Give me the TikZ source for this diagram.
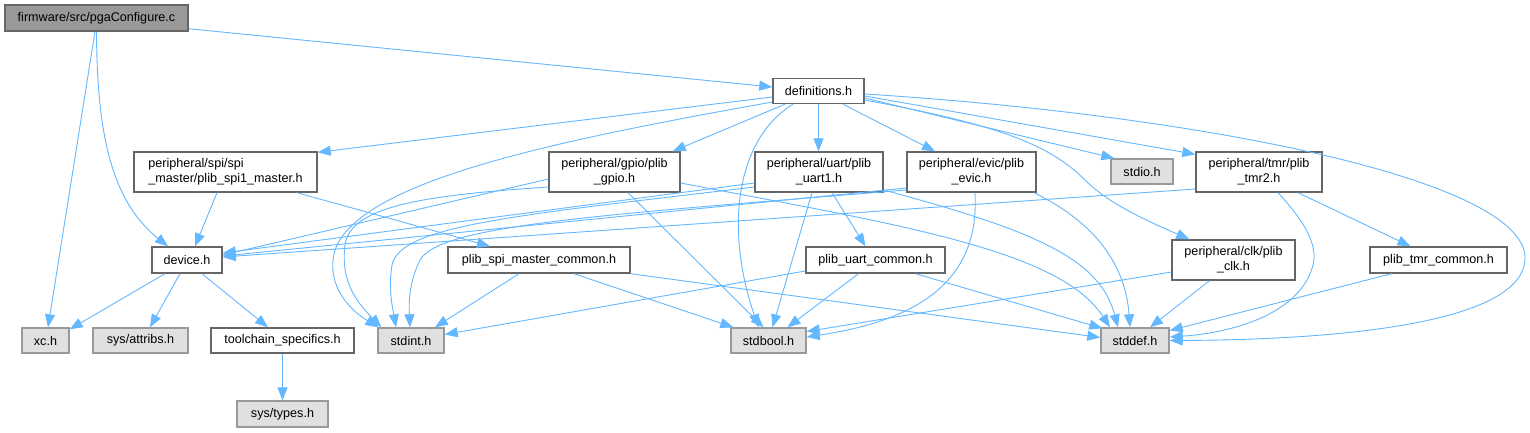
\documentclass[tikz,border=0pt]{standalone}
\usepackage{fontspec}
\setmainfont{Liberation Sans}
\usetikzlibrary{arrows.meta}
\definecolor{edgec}{HTML}{63B8FF}
\definecolor{nodeborder}{HTML}{666666}
\definecolor{grayborder}{HTML}{999999}
\definecolor{grayfill}{HTML}{E0E0E0}
\definecolor{rootfill}{HTML}{999999}
\definecolor{rootborder}{HTML}{666666}
\begin{document}
\begin{tikzpicture}[x=1pt,y=-1pt,
  box/.style={draw=nodeborder, fill=white, line width=1.4pt, inner sep=0pt,
    font=\fontsize{12.6}{15}\selectfont, align=center, minimum height=25pt},
  tallbox/.style={box, minimum height=40pt},
  gbox/.style={box, draw=grayborder, fill=grayfill},
  rootbox/.style={box, draw=rootborder, fill=rootfill},
  dep/.style={draw=edgec, line width=0.9pt, -{Triangle[length=13pt,width=10pt]}}]
\useasboundingbox[fill=white] (0,0) rectangle (1530,432);

% nodes
\node[rootbox, minimum width=183pt, minimum height=26pt] (pga) at (96.5,18) {firmware/src/pgaConfigure.c};
\node[box, minimum width=91pt] (defs) at (818.5,91) {definitions.h};
\node[tallbox, minimum width=183pt, align=left] (spi1) at (225.5,172) {peripheral/spi/spi\\\_master/plib\_spi1\_master.h};
\node[box, minimum width=70pt, minimum height=26pt] (device) at (187,260) {device.h};
\node[gbox, minimum width=47pt] (xc) at (45.5,340.5) {xc.h};
\node[gbox, minimum width=95pt] (attribs) at (140.5,340.5) {sys/attribs.h};
\node[box, minimum width=143pt] (toolchain) at (282.5,340.5) {toolchain\_specifics.h};
\node[gbox, minimum width=91pt, minimum height=26pt] (types) at (282.5,414) {sys/types.h};
\node[gbox, minimum width=66pt] (stdint) at (411,340.5) {stdint.h};
\node[tallbox, minimum width=131pt] (gpio) at (614.5,172) {peripheral/gpio/plib\\\_gpio.h};
\node[tallbox, minimum width=128pt] (uart1) at (819,172) {peripheral/uart/plib\\\_uart1.h};
\node[box, minimum width=182pt, minimum height=26pt] (spic) at (539,260) {plib\_spi\_master\_common.h};
\node[box, minimum width=139pt, minimum height=26pt] (uartc) at (875.5,260) {plib\_uart\_common.h};
\node[gbox, minimum width=75pt] (stdbool) at (768.5,340.5) {stdbool.h};
\node[tallbox, minimum width=129pt] (evic) at (971.5,172) {peripheral/evic/plib\\\_evic.h};
\node[gbox, minimum width=62pt] (stdio) at (1142,171.5) {stdio.h};
\node[tallbox, minimum width=126pt] (tmr2) at (1259,172) {peripheral/tmr/plib\\\_tmr2.h};
\node[tallbox, minimum width=123pt] (clk) at (1233.5,260) {peripheral/clk/plib\\\_clk.h};
\node[box, minimum width=137pt, minimum height=26pt] (tmrc) at (1438.5,260) {plib\_tmr\_common.h};
\node[gbox, minimum width=68pt] (stddef) at (1135,340.5) {stddef.h};

% pgaConfigure.c
\draw[dep] ([xshift=-1.5pt]pga.south) -- ([xshift=2.5pt]xc.north);
\draw[dep] (pga.south) .. controls (97,130) and (110,200) .. ([xshift=-19pt]device.north);
\draw[dep] ([yshift=3pt]pga.south east) -- ([yshift=4pt]defs.west);

% definitions.h
\draw[dep] ([yshift=-6pt]defs.west) -- ([yshift=-1pt]spi1.north east);
\draw[dep] ([xshift=-33.5pt]defs.south) -- ([xshift=-8pt]gpio.north east);
\draw[dep] (defs.south) -- (defs.south |- uart1.north);
\draw[dep] ([xshift=24.5pt]defs.south) -- ([xshift=-36.5pt]evic.north);
\draw[dep] ([yshift=-7pt]defs.east) -- ([xshift=4pt]stdio.north west);
\draw[dep] ([yshift=-5pt]defs.east) -- ([yshift=-3pt]tmr2.north west);
\draw[dep] ([yshift=-9pt]defs.east) .. controls (1000,125) and (1050,145) .. (1085,180)
  .. controls (1110,205) and (1150,222) .. ([xshift=18pt]clk.north west);
\draw[dep] ([yshift=-11pt]defs.west) .. controls (560,140) and (360,180) .. (335,250)
  .. controls (325,285) and (350,310) .. ([xshift=1pt]stdint.north west);
\draw[dep] ([xshift=-25.5pt]defs.south) .. controls (735,140) and (725,230) .. ([xshift=-10pt]stdbool.north);
\draw[dep] ([yshift=-3pt]defs.east) .. controls (1200,115) and (1530,180) .. (1525,260)
  .. controls (1520,330) and (1300,340) .. (stddef.east);

% spi1
\draw[dep] ([xshift=-8.5pt]spi1.south) -- ([xshift=8pt]device.north);
\draw[dep] ([xshift=71.5pt]spi1.south) -- ([xshift=-49pt]spic.north);

% device.h
\draw[dep] ([xshift=-22pt]device.south) -- ([yshift=-2pt]xc.north east);
\draw[dep] ([xshift=-7pt]device.south) -- ([xshift=9.5pt]attribs.north);
\draw[dep] ([xshift=15pt]device.south) -- ([xshift=-14.5pt]toolchain.north);
\draw[dep] (toolchain.south) -- (types.north);

% gpio
\draw[dep] ([yshift=-7pt]gpio.west) -- ([yshift=5pt]device.east);
\draw[dep] ([yshift=-15pt]gpio.west) .. controls (430,195) and (350,205) .. (345,245)
  .. controls (340,285) and (360,305) .. ([xshift=4pt]stdint.north west);
\draw[dep] ([xshift=13.5pt]gpio.south) -- ([xshift=-5pt]stdbool.north);
\draw[dep] ([yshift=-11pt]gpio.east) .. controls (900,225) and (1060,250) .. ([xshift=-25pt]stddef.north);

% uart1
\draw[dep] ([yshift=-11pt]uart1.west) -- ([yshift=7pt]device.east);
\draw[dep] ([yshift=-15pt]uart1.west) .. controls (520,215) and (400,225) .. (392,265)
  .. controls (388,290) and (393,310) .. ([xshift=-15pt]stdint.north);
\draw[dep] ([xshift=-7pt]uart1.south) -- ([xshift=4pt]stdbool.north);
\draw[dep] ([xshift=13pt]uart1.south) -- ([xshift=-10pt]uartc.north);
\draw[dep] ([yshift=-18pt]uart1.east) .. controls (1040,232) and (1100,260) .. ([xshift=-17pt]stddef.north);

% evic
\draw[dep] ([yshift=-16pt]evic.west) -- ([yshift=4pt]device.east);
\draw[dep] ([yshift=-18pt]evic.west) .. controls (600,215) and (440,225) .. (420,260)
  .. controls (408,285) and (409,305) .. ([xshift=-1pt]stdint.north);
\draw[dep] ([xshift=3.5pt]evic.south) .. controls (980,280) and (920,320) .. ([yshift=3.5pt]stdbool.east);
\draw[dep] ([xshift=62.5pt]evic.south) .. controls (1090,220) and (1125,260) .. ([xshift=-5pt]stddef.north);

% tmr2
\draw[dep] ([yshift=-17pt]tmr2.west) -- ([yshift=3pt]device.east);
\draw[dep] ([xshift=19pt]tmr2.south) .. controls (1305,222) and (1318,245) .. (1313,265)
  .. controls (1300,315) and (1230,333) .. ([yshift=3.5pt]stddef.east);
\draw[dep] ([xshift=39pt]tmr2.south) -- ([xshift=-28pt]tmrc.north);

% clk
\draw[dep] ([yshift=-12pt]clk.west) -- ([yshift=9pt]stdbool.east);
\draw[dep] ([xshift=-24pt]clk.south) -- ([xshift=15pt]stddef.north);

% tmr common
\draw[dep] ([xshift=-47pt]tmrc.south) -- ([yshift=10pt]stddef.east);

% spi master common
\draw[dep] ([xshift=-20pt]spic.south) -- ([xshift=24pt]stdint.north);
\draw[dep] ([xshift=35pt]spic.south) -- ([xshift=3pt]stdbool.north west);
\draw[dep] (spic.south east) -- ([yshift=3pt]stddef.west);

% uart common
\draw[dep] ([yshift=-11pt]uartc.west) -- ([yshift=6pt]stdint.east);
\draw[dep] ([xshift=-17pt]uartc.south) -- ([xshift=19pt]stdbool.north);
\draw[dep] ([xshift=40pt]uartc.south) -- ([xshift=2pt,yshift=-1pt]stddef.north west);
\end{tikzpicture}
\end{document}
